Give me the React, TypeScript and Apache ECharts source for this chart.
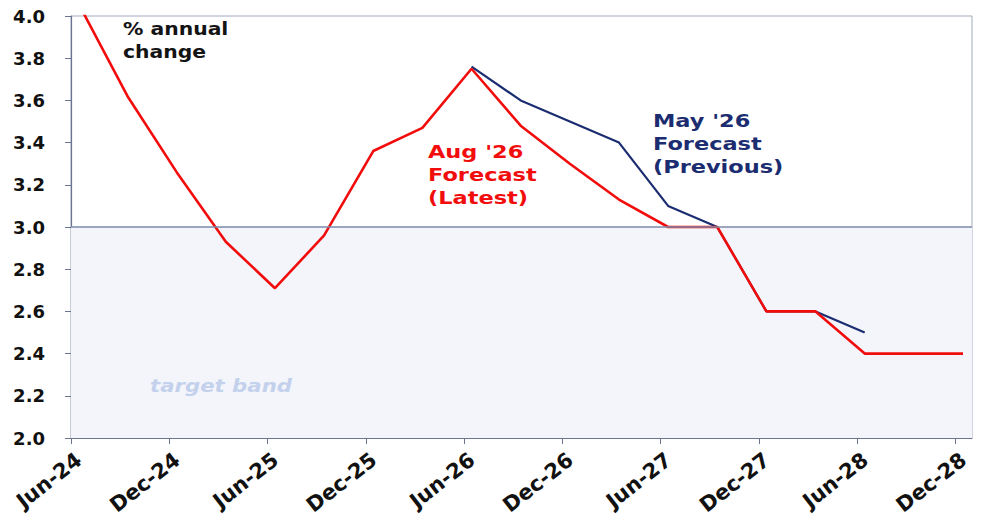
import React, { useEffect, useRef } from "react";
import * as echarts from "echarts";

// ---- data ----
const QUARTERS = [
  "Jun-24", "Sep-24", "Dec-24", "Mar-25", "Jun-25", "Sep-25", "Dec-25", "Mar-26",
  "Jun-26", "Sep-26", "Dec-26", "Mar-27", "Jun-27", "Sep-27", "Dec-27", "Mar-28",
  "Jun-28", "Sep-28", "Dec-28",
];
const LATEST = [
  4.06, 3.62, 3.26, 2.93, 2.71, 2.96, 3.36, 3.47,
  3.75, 3.48, 3.30, 3.13, 3.0, 3.0, 2.6, 2.6,
  2.4, 2.4, 2.4,
];
const PREVIOUS_QUARTERS = [
  "Jun-26", "Sep-26", "Dec-26", "Mar-27", "Jun-27", "Sep-27", "Dec-27", "Mar-28", "Jun-28",
];
const PREVIOUS = [3.76, 3.6, 3.5, 3.4, 3.1, 3.0, 2.6, 2.6, 2.5];
const TICK_LABELS = [
  "Jun-24", "Dec-24", "Jun-25", "Dec-25", "Jun-26", "Dec-26", "Jun-27", "Dec-27", "Jun-28", "Dec-28",
];
const TARGET_BAND = [2, 3];
const NOTE_UNITS = ["% annual", "change"];
const NOTE_LATEST = ["Aug '26", "Forecast", "(Latest)"];
const NOTE_PREVIOUS = ["May '26", "Forecast", "(Previous)"];
const BAND_LABEL = "target band";

const MONTHS = ["Jan", "Feb", "Mar", "Apr", "May", "Jun", "Jul", "Aug", "Sep", "Oct", "Nov", "Dec"];
// months since Jun-24
function monthIndex(label: string): number {
  const [m, y] = label.split("-");
  return (2000 + Number(y) - 2024) * 12 + MONTHS.indexOf(m) - 5;
}
const MID_MONTH = 0.45;

const FONT = "DejaVu Sans";
const RED = "#f20d0d";
const NAVY = "#1b2d70";

function noteLines(lines: string[], left: number, baseline: number, pitch: number, fs: number, sx: number, color: string, italic = false) {
  return lines.map((t, i) => ({
    type: "text",
    x: left,
    y: baseline + i * pitch - 0.346 * fs,
    scaleX: sx,
    z: 10,
    style: {
      x: 0,
      y: 0,
      text: t,
      fill: color,
      font: `${italic ? "italic " : ""}bold ${fs}px "${FONT}"`,
      align: "left",
      verticalAlign: "middle",
    },
  }));
}

export default function App() {
  const ref = useRef<HTMLDivElement>(null);
  useEffect(() => {
    document.body.style.margin = "0";
    const chart = echarts.init(ref.current!, null, { renderer: "svg" });
    const tickValues = TICK_LABELS.map(monthIndex);
    const axisColor = "#6b7591";
    chart.setOption({
      animation: false,
      backgroundColor: "#ffffff",
      grid: {
        left: 71,
        top: 16,
        right: 11,
        bottom: 80,
        show: true,
        borderColor: "#a3aabd",
        borderWidth: 1,
        outerBoundsMode: "none",
        containLabel: false,
      },
      xAxis: {
        type: "value",
        min: 0,
        max: 55,
        axisLine: { show: true, onZero: false, lineStyle: { color: axisColor, width: 1.2 } },
        axisTick: { show: true, customValues: tickValues, length: 6, lineStyle: { color: axisColor } },
        splitLine: { show: false },
        axisLabel: {
          customValues: tickValues,
          formatter: (v: number) => {
            const i = tickValues.findIndex((t) => Math.abs(t - v) < 0.01);
            return i >= 0 ? "\n" + TICK_LABELS[i] : "";
          },
          rotate: 38,
          margin: 9,
          lineHeight: 26,
          fontSize: 21,
          fontWeight: "bold",
          fontFamily: FONT,
          color: "#111111",
        },
      },
      yAxis: {
        type: "value",
        min: 2,
        max: 4,
        interval: 0.2,
        axisLine: { show: true, lineStyle: { color: axisColor, width: 1.2 } },
        axisTick: { show: true, length: 6, lineStyle: { color: axisColor } },
        splitLine: { show: false },
        axisLabel: {
          formatter: (v: number) => v.toFixed(1),
          margin: 26,
          fontSize: 18,
          fontWeight: "bold",
          fontFamily: FONT,
          color: "#111111",
        },
      },
      series: [
        {
          name: "May '26 Forecast (Previous)",
          type: "line",
          z: 2,
          symbol: "none",
          lineStyle: { color: NAVY, width: 2.2 },
          data: PREVIOUS_QUARTERS.map((q, i) => [monthIndex(q) + MID_MONTH, PREVIOUS[i]]),
          markArea: {
            silent: true,
            itemStyle: { color: "#f3f5fb" },
            data: [[{ yAxis: TARGET_BAND[0] }, { yAxis: TARGET_BAND[1] }]],
          },
          markLine: {
            silent: true,
            symbol: ["none", "none"],
            label: { show: false },
            lineStyle: { color: "#7d89aa", width: 1.5, type: "solid" },
            data: [{ yAxis: TARGET_BAND[1] }],
          },
        },
        {
          name: "Aug '26 Forecast (Latest)",
          type: "line",
          z: 3,
          symbol: "none",
          lineStyle: { color: RED, width: 2.6 },
          data: QUARTERS.map((q, i) => [monthIndex(q) + MID_MONTH, LATEST[i]]),
        },
      ],
      graphic: [
        ...noteLines(NOTE_UNITS, 123, 35.3, 23.4, 18.5, 1.1, "#141414"),
        ...noteLines(NOTE_LATEST, 428, 157.7, 23.3, 17.4, 1.29, RED),
        ...noteLines(NOTE_PREVIOUS, 653, 127.3, 22.7, 17.4, 1.29, NAVY),
        ...noteLines([BAND_LABEL], 150, 391.7, 0, 17, 1.25, "#c3d1ec", true),
      ],
    });
    return () => chart.dispose();
  }, []);
  return <div ref={ref} style={{ width: 983, height: 518 }} />;
}
